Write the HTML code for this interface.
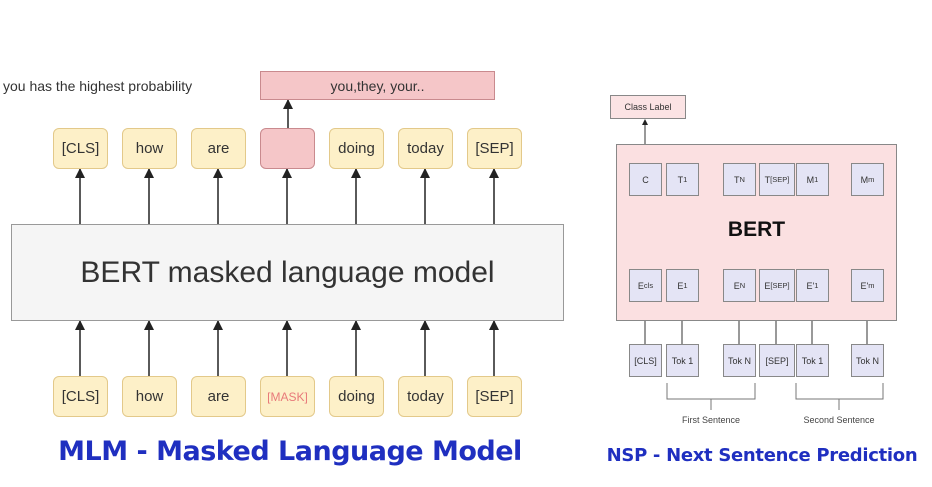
<!DOCTYPE html>
<html><head><style>
body{margin:0;width:932px;height:487px;background:#fff;position:relative;overflow:hidden;font-family:"Liberation Sans",sans-serif}
.a{position:absolute;box-sizing:border-box}
.t{background:#fdf0c8;border:1.5px solid #e3c98a;border-radius:6px;width:55px;height:41px;display:flex;align-items:center;justify-content:center;font-size:15px;color:#333}
.s{background:#e4e4f5;border:1px solid #888;width:33px;height:33px;display:flex;align-items:center;justify-content:center;font-size:9px;color:#333}
</style></head><body>
<svg class="a" style="left:0;top:0" width="932" height="487">
<defs><marker id="m" markerUnits="userSpaceOnUse" markerWidth="10" markerHeight="10" refX="9" refY="5" orient="auto"><path d="M0,0 L10,5 L0,10z" fill="#222"/></marker>
<marker id="n" markerUnits="userSpaceOnUse" markerWidth="6" markerHeight="6" refX="5" refY="3" orient="auto"><path d="M0,0 L6,3 L0,6z" fill="#222"/></marker></defs>
<g stroke="#222" stroke-width="1.5" marker-end="url(#m)">
<line x1="80" y1="224" x2="80" y2="169"/><line x1="149" y1="224" x2="149" y2="169"/><line x1="218" y1="224" x2="218" y2="169"/><line x1="287" y1="224" x2="287" y2="169"/><line x1="356" y1="224" x2="356" y2="169"/><line x1="425" y1="224" x2="425" y2="169"/><line x1="494" y1="224" x2="494" y2="169"/>
<line x1="80" y1="376" x2="80" y2="321"/><line x1="149" y1="376" x2="149" y2="321"/><line x1="218" y1="376" x2="218" y2="321"/><line x1="287" y1="376" x2="287" y2="321"/><line x1="356" y1="376" x2="356" y2="321"/><line x1="425" y1="376" x2="425" y2="321"/><line x1="494" y1="376" x2="494" y2="321"/>
<line x1="288" y1="128" x2="288" y2="100"/>
</g>
<g stroke="#333" stroke-width="1" marker-end="url(#n)">
<line x1="645" y1="163" x2="645" y2="120"/>
<line x1="645" y1="344" x2="645" y2="302"/><line x1="682" y1="344" x2="682" y2="302"/><line x1="739" y1="344" x2="739" y2="302"/><line x1="776" y1="344" x2="776" y2="302"/><line x1="812" y1="344" x2="812" y2="302"/><line x1="867" y1="344" x2="867" y2="302"/>
</g>
<g stroke="#777" fill="none" stroke-width="1">
<path d="M667,383 V399 H755 V383 M711,399 V410"/>
<path d="M796,383 V399 H883 V383 M839,399 V410"/>
</g>
</svg>
<div class="a" style="left:3px;top:78px;font-size:14px;color:#333">you has the highest probability</div>
<div class="a" style="left:260px;top:71px;width:235px;height:29px;background:#f5c6c8;border:1.5px solid #c98a8e;display:flex;align-items:center;justify-content:center;font-size:14px;color:#333">you,they, your..</div>
<div class="a t" style="left:53px;top:128px">[CLS]</div><div class="a t" style="left:122px;top:128px">how</div><div class="a t" style="left:191px;top:128px">are</div>
<div class="a t" style="left:260px;top:128px;background:#f5c6c8;border-color:#c98a8e"></div>
<div class="a t" style="left:329px;top:128px">doing</div><div class="a t" style="left:398px;top:128px">today</div><div class="a t" style="left:467px;top:128px">[SEP]</div>
<div class="a" style="left:11px;top:224px;width:553px;height:97px;background:#f5f5f5;border:1.5px solid #999;display:flex;align-items:center;justify-content:center;font-size:30px;color:#333">BERT masked language model</div>
<div class="a t" style="left:53px;top:376px">[CLS]</div><div class="a t" style="left:122px;top:376px">how</div><div class="a t" style="left:191px;top:376px">are</div>
<div class="a t" style="left:260px;top:376px;color:#e87a7a;font-size:12px">[MASK]</div>
<div class="a t" style="left:329px;top:376px">doing</div><div class="a t" style="left:398px;top:376px">today</div><div class="a t" style="left:467px;top:376px">[SEP]</div>
<div class="a" style="left:0;top:436px;width:580px;text-align:center;font-size:27px;font-weight:bold;color:#1f2fc0;font-family:'DejaVu Sans',sans-serif;letter-spacing:-0.5px">MLM - Masked Language Model</div>

<div class="a" style="left:610px;top:95px;width:76px;height:24px;background:#fbe3e4;border:1px solid #888;font-size:9px;display:flex;align-items:center;justify-content:center;color:#333">Class Label</div>
<div class="a" style="left:616px;top:144px;width:281px;height:177px;background:#fbe0e1;border:1px solid #888"></div>
<div class="a" style="left:616px;top:218px;width:281px;text-align:center;font-size:21px;font-weight:bold;color:#111">BERT</div>
<div class="a s" style="left:629px;top:163px">C</div><div class="a s" style="left:666px;top:163px">T<sub>1</sub></div><div class="a s" style="left:723px;top:163px">T<sub>N</sub></div><div class="a s" style="left:759px;top:163px;width:36px">T<sub>[SEP]</sub></div><div class="a s" style="left:796px;top:163px">M<sub>1</sub></div><div class="a s" style="left:851px;top:163px">M<sub>m</sub></div>
<div class="a s" style="left:629px;top:269px">E<sub>cls</sub></div><div class="a s" style="left:666px;top:269px">E<sub>1</sub></div><div class="a s" style="left:723px;top:269px">E<sub>N</sub></div><div class="a s" style="left:759px;top:269px;width:36px">E<sub>[SEP]</sub></div><div class="a s" style="left:796px;top:269px">E'<sub>1</sub></div><div class="a s" style="left:851px;top:269px">E'<sub>m</sub></div>
<div class="a s" style="left:629px;top:344px">[CLS]</div><div class="a s" style="left:666px;top:344px">Tok 1</div><div class="a s" style="left:723px;top:344px">Tok N</div><div class="a s" style="left:759px;top:344px;width:36px">[SEP]</div><div class="a s" style="left:796px;top:344px">Tok 1</div><div class="a s" style="left:851px;top:344px">Tok N</div>
<div class="a" style="left:671px;top:415px;width:80px;text-align:center;font-size:9px;color:#444">First Sentence</div>
<div class="a" style="left:794px;top:415px;width:90px;text-align:center;font-size:9px;color:#444">Second Sentence</div>
<div class="a" style="left:604px;top:445px;width:316px;text-align:center;font-size:18px;font-weight:bold;color:#1f2fc0;font-family:'DejaVu Sans',sans-serif;letter-spacing:-0.3px">NSP - Next Sentence Prediction</div>
</body></html>
